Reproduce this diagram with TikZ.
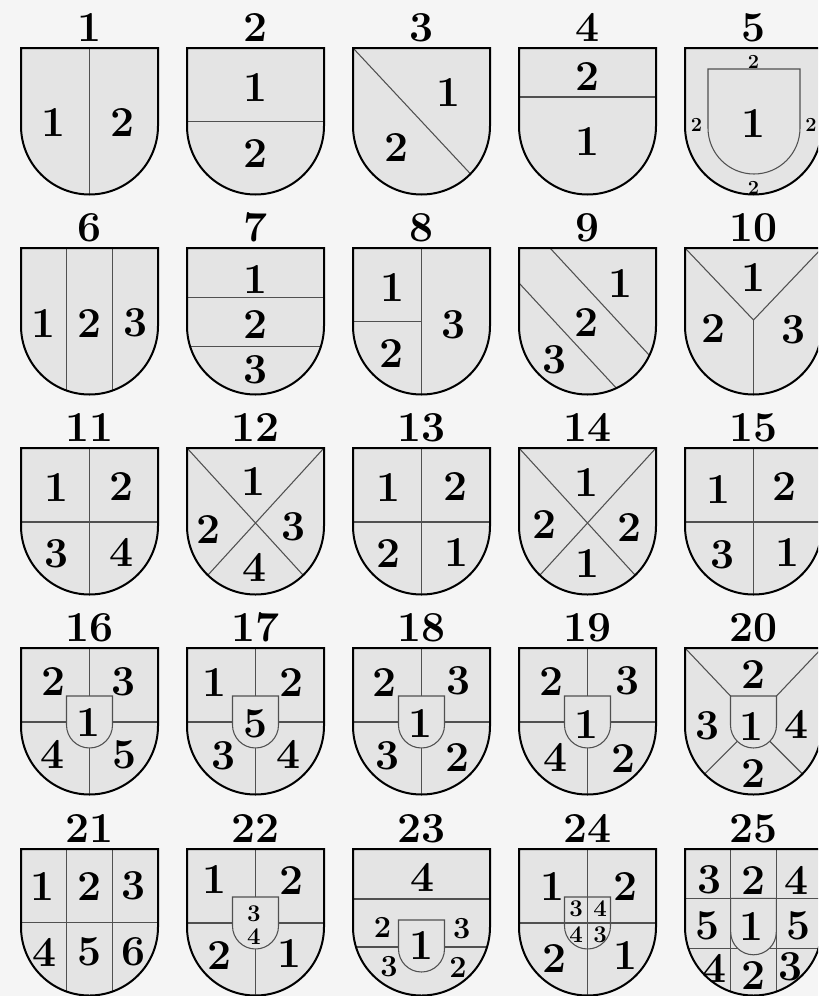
\documentclass[tikz,border=0pt]{standalone}
\usepackage{tikz}

\definecolor{paper}{RGB}{245,245,245}
\definecolor{argent}{RGB}{228,228,228}
\definecolor{seam}{RGB}{80,80,80}

\newcommand{\shieldpath}{(0,0) -- (137,0) -- (137,78) arc[start angle=0, end angle=180, radius=68.5] -- cycle}
\newcommand{\inescutcheon}[2]{(#1,#2) -- ++(46,0) -- ++(0,29) arc[start angle=0, end angle=180, radius=23] -- cycle}

\begin{document}
\begin{tikzpicture}[
    x=0.75pt,
    y=-0.75pt,
    rim/.style={draw=black, line width=1.5pt},
    tincture/.style={fill=argent},
    division/.style={draw=seam, line width=0.8pt},
    inshield/.style={draw=seam, line width=0.8pt, fill=argent},
    heading/.style={anchor=base, inner sep=0pt, font=\fontsize{32}{32}\selectfont\bfseries},
    num/.style={inner sep=0pt, font=\fontsize{32}{32}\selectfont\bfseries},
    midnum/.style={inner sep=0pt, font=\fontsize{23}{23}\selectfont\bfseries},
    tinynum/.style={inner sep=0pt, font=\fontsize{18}{18}\selectfont\bfseries},
    smallnum/.style={inner sep=0pt, font=\fontsize{15}{15}\selectfont\bfseries}
]

\path[use as bounding box, clip] (0,0) rectangle (818,996);
\fill[paper] (0,0) rectangle (818,996);

% ============================================================
% Row 1
% ============================================================

\begin{scope}[shift={(21,48)}]
    \fill[tincture] \shieldpath;
    \begin{scope}
        \clip \shieldpath;
        \draw[division] (68.5,0) -- (68.5,150);
    \end{scope}
    \draw[rim] \shieldpath;
    \node[heading] (lab1) at (68.5,-7) {1};
    \node[num] (f1a) at (33,75) {1};
    \node[num] (f1b) at (102,75) {2};
\end{scope}

\begin{scope}[shift={(187,48)}]
    \fill[tincture] \shieldpath;
    \begin{scope}
        \clip \shieldpath;
        \draw[division] (0,73.7) -- (137,73.7);
    \end{scope}
    \draw[rim] \shieldpath;
    \node[heading] (lab2) at (68.5,-7) {2};
    \node[num] (f2a) at (68.5,40) {1};
    \node[num] (f2b) at (68.5,106) {2};
\end{scope}

\begin{scope}[shift={(353,48)}]
    \fill[tincture] \shieldpath;
    \begin{scope}
        \clip \shieldpath;
        \draw[division] (0,0) -- (140,150);
    \end{scope}
    \draw[rim] \shieldpath;
    \node[heading] (lab3) at (68.5,-7) {3};
    \node[num] (f3a) at (96,45) {1};
    \node[num] (f3b) at (43.5,100) {2};
\end{scope}

\begin{scope}[shift={(519,48)}]
    \fill[tincture] \shieldpath;
    \begin{scope}
        \clip \shieldpath;
        \draw[division] (0,49) -- (137,49);
    \end{scope}
    \draw[rim] \shieldpath;
    \node[heading] (lab4) at (68.5,-7) {4};
    \node[num] (f4a) at (68.5,28.5) {2};
    \node[num] (f4b) at (68.5,93.5) {1};
\end{scope}

% bordure
\begin{scope}[shift={(685,48)}]
    \fill[tincture] \shieldpath;
    \draw[division] (23,21) -- ++(92,0) -- ++(0,59)
        arc[start angle=0, end angle=180, radius=46] -- cycle;
    \draw[rim] \shieldpath;
    \node[heading] (lab5) at (68.5,-7) {5};
    \node[num] (f5a) at (68.5,76) {1};
    \node[smallnum] (f5b) at (68.5,13.5) {2};
    \node[smallnum] (f5c) at (11.5,77) {2};
    \node[smallnum] (f5d) at (126,77) {2};
    \node[smallnum] (f5e) at (68.5,139.5) {2};
\end{scope}

% ============================================================
% Row 2
% ============================================================

\begin{scope}[shift={(21,248)}]
    \fill[tincture] \shieldpath;
    \begin{scope}
        \clip \shieldpath;
        \draw[division] (45.7,0) -- (45.7,150);
        \draw[division] (91.3,0) -- (91.3,150);
    \end{scope}
    \draw[rim] \shieldpath;
    \node[heading] (lab6) at (68.5,-7) {6};
    \node[num] (f6a) at (22.8,75) {1};
    \node[num] (f6b) at (68.5,75) {2};
    \node[num] (f6c) at (114.2,75) {3};
\end{scope}

\begin{scope}[shift={(187,248)}]
    \fill[tincture] \shieldpath;
    \begin{scope}
        \clip \shieldpath;
        \draw[division] (0,49.3) -- (137,49.3);
        \draw[division] (0,98.7) -- (137,98.7);
    \end{scope}
    \draw[rim] \shieldpath;
    \node[heading] (lab7) at (68.5,-7) {7};
    \node[num] (f7a) at (68.5,32) {1};
    \node[num] (f7b) at (68.5,76.5) {2};
    \node[num] (f7c) at (68.5,122) {3};
\end{scope}

\begin{scope}[shift={(353,248)}]
    \fill[tincture] \shieldpath;
    \begin{scope}
        \clip \shieldpath;
        \draw[division] (68.5,0) -- (68.5,150);
        \draw[division] (0,73.7) -- (68.5,73.7);
    \end{scope}
    \draw[rim] \shieldpath;
    \node[heading] (lab8) at (68.5,-7) {8};
    \node[num] (f8a) at (39.5,39.5) {1};
    \node[num] (f8b) at (38.7,106) {2};
    \node[num] (f8c) at (101,77) {3};
\end{scope}

\begin{scope}[shift={(519,248)}]
    \fill[tincture] \shieldpath;
    \begin{scope}
        \clip \shieldpath;
        \draw[division] (31,0) -- (171,151.2);
        \draw[division] (0,35) -- (140,186.2);
    \end{scope}
    \draw[rim] \shieldpath;
    \node[heading] (lab9) at (68.5,-7) {9};
    \node[num] (f9a) at (102,36) {1};
    \node[num] (f9b) at (68,74.5) {2};
    \node[num] (f9c) at (36,112) {3};
\end{scope}

\begin{scope}[shift={(685,248)}]
    \fill[tincture] \shieldpath;
    \begin{scope}
        \clip \shieldpath;
        \draw[division] (0,0) -- (68.5,72) -- (137,0);
        \draw[division] (68.5,72) -- (68.5,150);
    \end{scope}
    \draw[rim] \shieldpath;
    \node[heading] (lab10) at (68.5,-7) {10};
    \node[num] (f10a) at (69,30) {1};
    \node[num] (f10b) at (28.5,80) {2};
    \node[num] (f10c) at (109,82) {3};
\end{scope}

% ============================================================
% Row 3
% ============================================================

\begin{scope}[shift={(21,448)}]
    \fill[tincture] \shieldpath;
    \begin{scope}
        \clip \shieldpath;
        \draw[division] (68.5,0) -- (68.5,150);
        \draw[division] (0,74) -- (137,74);
    \end{scope}
    \draw[rim] \shieldpath;
    \node[heading] (lab11) at (68.5,-7) {11};
    \node[num] (f11a) at (36,39) {1};
    \node[num] (f11b) at (100.5,38) {2};
    \node[num] (f11c) at (36,105.5) {3};
    \node[num] (f11d) at (101,104) {4};
\end{scope}

\begin{scope}[shift={(187,448)}]
    \fill[tincture] \shieldpath;
    \begin{scope}
        \clip \shieldpath;
        \draw[division] (0,0) -- (137,150);
        \draw[division] (137,0) -- (0,150);
    \end{scope}
    \draw[rim] \shieldpath;
    \node[heading] (lab12) at (68.5,-7) {12};
    \node[num] (f12a) at (66.5,33) {1};
    \node[num] (f12b) at (22,81) {2};
    \node[num] (f12c) at (107,79) {3};
    \node[num] (f12d) at (68,119.5) {4};
\end{scope}

\begin{scope}[shift={(353,448)}]
    \fill[tincture] \shieldpath;
    \begin{scope}
        \clip \shieldpath;
        \draw[division] (68.5,0) -- (68.5,150);
        \draw[division] (0,74) -- (137,74);
    \end{scope}
    \draw[rim] \shieldpath;
    \node[heading] (lab13) at (68.5,-7) {13};
    \node[num] (f13a) at (36,39) {1};
    \node[num] (f13b) at (103,38) {2};
    \node[num] (f13c) at (36,105) {2};
    \node[num] (f13d) at (103.5,104.5) {1};
\end{scope}

\begin{scope}[shift={(519,448)}]
    \fill[tincture] \shieldpath;
    \begin{scope}
        \clip \shieldpath;
        \draw[division] (0,0) -- (137,150);
        \draw[division] (137,0) -- (0,150);
    \end{scope}
    \draw[rim] \shieldpath;
    \node[heading] (lab14) at (68.5,-7) {14};
    \node[num] (f14a) at (67.5,34.5) {1};
    \node[num] (f14b) at (26,76) {2};
    \node[num] (f14c) at (111,79) {2};
    \node[num] (f14d) at (69,115) {1};
\end{scope}

\begin{scope}[shift={(685,448)}]
    \fill[tincture] \shieldpath;
    \begin{scope}
        \clip \shieldpath;
        \draw[division] (68.5,0) -- (68.5,150);
        \draw[division] (0,74) -- (137,74);
    \end{scope}
    \draw[rim] \shieldpath;
    \node[heading] (lab15) at (68.5,-7) {15};
    \node[num] (f15a) at (34,41) {1};
    \node[num] (f15b) at (100,38) {2};
    \node[num] (f15c) at (37.5,107) {3};
    \node[num] (f15d) at (102.5,104.5) {1};
\end{scope}

% ============================================================
% Row 4 (with inescutcheon)
% ============================================================

\begin{scope}[shift={(21,648)}]
    \fill[tincture] \shieldpath;
    \begin{scope}
        \clip \shieldpath;
        \draw[division] (68.5,0) -- (68.5,150);
        \draw[division] (0,74) -- (137,74);
        \draw[inshield] \inescutcheon{45.5}{48};
    \end{scope}
    \draw[rim] \shieldpath;
    \node[heading] (lab16) at (68.5,-7) {16};
    \node[num] (f16a) at (32.5,33.5) {2};
    \node[num] (f16b) at (103,34) {3};
    \node[num] (f16c) at (67.5,74.5) {1};
    \node[num] (f16d) at (31.5,106) {4};
    \node[num] (f16e) at (104,107) {5};
\end{scope}

\begin{scope}[shift={(187,648)}]
    \fill[tincture] \shieldpath;
    \begin{scope}
        \clip \shieldpath;
        \draw[division] (68.5,0) -- (68.5,150);
        \draw[division] (0,74) -- (137,74);
        \draw[inshield] \inescutcheon{45.5}{48};
    \end{scope}
    \draw[rim] \shieldpath;
    \node[heading] (lab17) at (68.5,-7) {17};
    \node[num] (f17a) at (28,34) {1};
    \node[num] (f17b) at (104.5,34) {2};
    \node[num] (f17c) at (69,75.5) {5};
    \node[num] (f17d) at (37,107.5) {3};
    \node[num] (f17e) at (102,106) {4};
\end{scope}

\begin{scope}[shift={(353,648)}]
    \fill[tincture] \shieldpath;
    \begin{scope}
        \clip \shieldpath;
        \draw[division] (68.5,0) -- (68.5,150);
        \draw[division] (0,74) -- (137,74);
        \draw[inshield] \inescutcheon{45.5}{48};
    \end{scope}
    \draw[rim] \shieldpath;
    \node[heading] (lab18) at (68.5,-7) {18};
    \node[num] (f18a) at (32,34) {2};
    \node[num] (f18b) at (106,33) {3};
    \node[num] (f18c) at (68,75) {1};
    \node[num] (f18d) at (35,108) {3};
    \node[num] (f18e) at (105,109) {2};
\end{scope}

\begin{scope}[shift={(519,648)}]
    \fill[tincture] \shieldpath;
    \begin{scope}
        \clip \shieldpath;
        \draw[division] (68.5,0) -- (68.5,150);
        \draw[division] (0,74) -- (137,74);
        \draw[inshield] \inescutcheon{45.5}{48};
    \end{scope}
    \draw[rim] \shieldpath;
    \node[heading] (lab19) at (68.5,-7) {19};
    \node[num] (f19a) at (32.5,33) {2};
    \node[num] (f19b) at (108.5,33) {3};
    \node[num] (f19c) at (67.7,76) {1};
    \node[num] (f19d) at (36.7,109.5) {4};
    \node[num] (f19e) at (104.5,110) {2};
\end{scope}

\begin{scope}[shift={(685,648)}]
    \fill[tincture] \shieldpath;
    \begin{scope}
        \clip \shieldpath;
        \draw[division] (0,0) -- (45.5,48);
        \draw[division] (137,0) -- (91.5,48);
        \draw[division] (68.5,77) -- (8.5,137);
        \draw[division] (68.5,77) -- (128.5,137);
        \draw[inshield] \inescutcheon{45.5}{48};
    \end{scope}
    \draw[rim] \shieldpath;
    \node[heading] (lab20) at (68.5,-7) {20};
    \node[num] (f20a) at (69,26) {2};
    \node[num] (f20b) at (23,78) {3};
    \node[num] (f20c) at (67,78.7) {1};
    \node[num] (f20d) at (111.7,76) {4};
    \node[num] (f20e) at (69,125) {2};
\end{scope}

% ============================================================
% Row 5
% ============================================================

\begin{scope}[shift={(21,849)}]
    \fill[tincture] \shieldpath;
    \begin{scope}
        \clip \shieldpath;
        \draw[division] (45.7,0) -- (45.7,150);
        \draw[division] (91.3,0) -- (91.3,150);
        \draw[division] (0,73.7) -- (137,73.7);
    \end{scope}
    \draw[rim] \shieldpath;
    \node[heading] (lab21) at (68.5,-7) {21};
    \node[num] (f21a) at (22,37) {1};
    \node[num] (f21b) at (68.5,37) {2};
    \node[num] (f21c) at (113,37) {3};
    \node[num] (f21d) at (24,103) {4};
    \node[num] (f21e) at (68.5,103) {5};
    \node[num] (f21f) at (113,103) {6};
\end{scope}

\begin{scope}[shift={(187,849)}]
    \fill[tincture] \shieldpath;
    \begin{scope}
        \clip \shieldpath;
        \draw[division] (68.5,0) -- (68.5,150);
        \draw[division] (0,74) -- (137,74);
        \draw[inshield] \inescutcheon{45.5}{48};
    \end{scope}
    \draw[rim] \shieldpath;
    \node[heading] (lab22) at (68.5,-7) {22};
    \node[num] (f22a) at (27.5,30) {1};
    \node[num] (f22b) at (104.7,31) {2};
    \node[num] (f22c) at (33,106) {2};
    \node[num] (f22d) at (102.5,104) {1};
    \node[tinynum] (f22e) at (67,65) {3};
    \node[tinynum] (f22f) at (67,87.5) {4};
\end{scope}

\begin{scope}[shift={(353,849)}]
    \fill[tincture] \shieldpath;
    \begin{scope}
        \clip \shieldpath;
        \draw[division] (0,50) -- (137,50);
        \draw[division] (0,98) -- (137,98);
        \draw[inshield] \inescutcheon{45.5}{71};
    \end{scope}
    \draw[rim] \shieldpath;
    \node[heading] (lab23) at (68.5,-7) {23};
    \node[num] (f23a) at (69.5,28.7) {4};
    \node[midnum] (f23b) at (29.5,78.5) {2};
    \node[midnum] (f23c) at (108.7,80) {3};
    \node[num] (f23d) at (69,96) {1};
    \node[midnum] (f23e) at (36,118) {3};
    \node[midnum] (f23f) at (105,118) {2};
\end{scope}

\begin{scope}[shift={(519,849)}]
    \fill[tincture] \shieldpath;
    \begin{scope}
        \clip \shieldpath;
        \draw[division] (68.5,0) -- (68.5,150);
        \draw[division] (0,74) -- (137,74);
        \draw[division] \inescutcheon{45.5}{48};
    \end{scope}
    \draw[rim] \shieldpath;
    \node[heading] (lab24) at (68.5,-7) {24};
    \node[num] (f24a) at (34,37) {1};
    \node[num] (f24b) at (107,37.7) {2};
    \node[num] (f24c) at (36,109) {2};
    \node[num] (f24d) at (107,106) {1};
    \node[tinynum] (f24e) at (57,60) {3};
    \node[tinynum] (f24f) at (81,60) {4};
    \node[tinynum] (f24g) at (57,86) {4};
    \node[tinynum] (f24h) at (81,86) {3};
\end{scope}

\begin{scope}[shift={(685,849)}]
    \fill[tincture] \shieldpath;
    \begin{scope}
        \clip \shieldpath;
        \draw[division] (45.7,0) -- (45.7,150);
        \draw[division] (91.3,0) -- (91.3,150);
        \draw[division] (0,49.3) -- (137,49.3);
        \draw[division] (0,99.3) -- (137,99.3);
        \draw[inshield] (45.7,49.3) -- (45.7,83)
            arc[start angle=180, end angle=0, radius=22.8] -- (91.3,49.3) -- cycle;
    \end{scope}
    \draw[rim] \shieldpath;
    \node[heading] (lab25) at (68.5,-7) {25};
    \node[num] (f25a) at (25,31) {3};
    \node[num] (f25b) at (68.5,31) {2};
    \node[num] (f25c) at (111.7,31) {4};
    \node[num] (f25d) at (23,77) {5};
    \node[num] (f25e) at (67,77) {1};
    \node[num] (f25f) at (114,77) {5};
    \node[num] (f25g) at (30,119.5) {4};
    \node[num] (f25h) at (69,126.5) {2};
    \node[num] (f25i) at (106,118) {3};
\end{scope}

\end{tikzpicture}
\end{document}
